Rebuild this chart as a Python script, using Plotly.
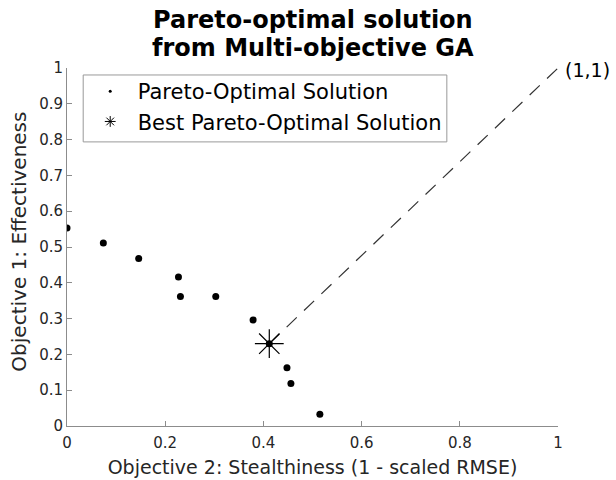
import plotly.graph_objects as go

# Pareto front from the multi-objective GA run
stealthiness = [0.0, 0.074, 0.146, 0.227, 0.231, 0.303, 0.379, 0.412, 0.448, 0.456, 0.515]
effectiveness = [0.553, 0.511, 0.468, 0.416, 0.362, 0.362, 0.296, 0.230, 0.163, 0.119, 0.033]

# Chosen compromise solution and the ideal point
best_x = [0.412]
best_y = [0.230]
ideal_x = [1.0]
ideal_y = [1.0]

x_ticks = [0, 0.2, 0.4, 0.6, 0.8, 1]
y_ticks = [0, 0.1, 0.2, 0.3, 0.4, 0.5, 0.6, 0.7, 0.8, 0.9, 1]

title_lines = ["Pareto-optimal solution", "from Multi-objective GA"]

FONT = "DejaVu Sans"
AXIS_TEXT = "#262626"
AXIS_LINE = "#8c8c8c"

fig = go.Figure()

# Dashed line from the best solution to the ideal point (1,1)
fig.add_trace(go.Scatter(
    x=best_x + ideal_x, y=best_y + ideal_y, mode="lines",
    line=dict(color="#333333", width=1.2, dash="14px,10px"),
    showlegend=False, hoverinfo="skip",
))

fig.add_trace(go.Scatter(
    x=stealthiness, y=effectiveness, mode="markers",
    marker=dict(symbol="circle", size=7, color="black"),
    showlegend=False,
))

fig.add_trace(go.Scatter(
    x=best_x, y=best_y, mode="markers",
    marker=dict(symbol="asterisk-open", size=24, color="black",
                line=dict(color="black", width=1.2)),
    showlegend=False,
))

# Legend entries with compact symbols
fig.add_trace(go.Scatter(
    x=[None], y=[None], mode="markers", name="Pareto-Optimal Solution",
    marker=dict(symbol="circle", size=3, color="black"),
))
fig.add_trace(go.Scatter(
    x=[None], y=[None], mode="markers", name="Best Pareto-Optimal Solution",
    marker=dict(symbol="asterisk-open", size=9, color="black",
                line=dict(color="black", width=1)),
))

fig.add_annotation(
    x=ideal_x[0], y=ideal_y[0], xref="x", yref="y", text="(1,1)",
    showarrow=False, xanchor="left", yanchor="middle", xshift=5, yshift=-2,
    font=dict(family=FONT, size=19, color="black"),
)

# Two-line bold title, one annotation per line for tight line spacing
for line, ypos in zip(title_lines, [1.135, 1.057]):
    fig.add_annotation(
        x=0.5, y=ypos, xref="paper", yref="paper", text=f"<b>{line}</b>",
        showarrow=False, xanchor="center", yanchor="middle",
        font=dict(family=FONT, size=24, color="black"),
    )

# Y-axis title
fig.add_annotation(
    x=0, y=0.515, xref="paper", yref="paper", text="Objective 1: Effectiveness",
    textangle=-90, showarrow=False, xanchor="center", yanchor="middle", xshift=-48,
    font=dict(family=FONT, size=20, color=AXIS_TEXT),
)

# Frame around the legend entries
fig.add_shape(
    type="rect", xref="paper", yref="paper",
    x0=0.033, x1=0.7736, y0=0.7936, y1=0.9805,
    line=dict(color="#999999", width=1), fillcolor="white", layer="below",
)

fig.update_layout(
    width=616, height=480,
    margin=dict(l=67, r=58, t=68, b=54, autoexpand=False),
    paper_bgcolor="white", plot_bgcolor="white",
    font=dict(family=FONT, color=AXIS_TEXT),
    legend=dict(
        x=0.032, y=0.9916, xanchor="left", yanchor="top",
        borderwidth=0, bgcolor="rgba(0,0,0,0)",
        font=dict(family=FONT, size=21, color="black"),
        itemwidth=45,
    ),
    xaxis=dict(
        range=[0, 1], tickvals=x_ticks, ticktext=[f"{v:g}" for v in x_ticks],
        showgrid=False, zeroline=False, automargin=False,
        showline=True, linecolor=AXIS_LINE, linewidth=1,
        ticks="inside", ticklen=5, tickcolor=AXIS_LINE,
        ticklabelstandoff=3,
        tickfont=dict(family=FONT, size=15, color=AXIS_TEXT),
        title=dict(text="Objective 2: Stealthiness (1 - scaled RMSE)",
                   font=dict(family=FONT, size=19, color=AXIS_TEXT), standoff=9),
    ),
    yaxis=dict(
        range=[0, 1], tickvals=y_ticks, ticktext=[f"{v:g}" for v in y_ticks],
        showgrid=False, zeroline=False, automargin=False,
        showline=True, linecolor=AXIS_LINE, linewidth=1,
        ticks="inside", ticklen=5, tickcolor=AXIS_LINE,
        tickfont=dict(family=FONT, size=15, color=AXIS_TEXT),
    ),
)

fig.write_html("out.html")
